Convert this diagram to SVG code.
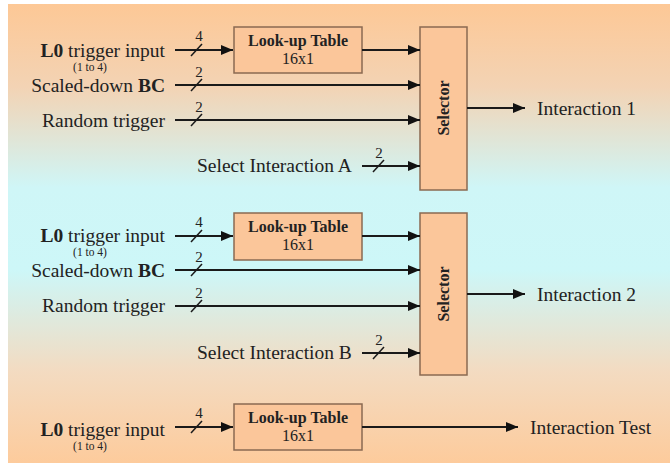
<svg xmlns="http://www.w3.org/2000/svg" width="670" height="465" viewBox="0 0 670 465">
<defs>
<linearGradient id="bg" x1="0" y1="0" x2="0" y2="1">
<stop offset="0" stop-color="#fdc896"/>
<stop offset="0.18" stop-color="#f3d3b4"/>
<stop offset="0.40" stop-color="#cff6f7"/>
<stop offset="0.58" stop-color="#cdf7f8"/>
<stop offset="0.80" stop-color="#f3dbc1"/>
<stop offset="1" stop-color="#fdcb9c"/>
</linearGradient>
<marker id="ah" viewBox="0 0 12 10" refX="12" refY="5" markerWidth="12" markerHeight="10" markerUnits="userSpaceOnUse" orient="auto">
<path d="M0,0 L12,5 L0,10 z" fill="#111"/>
</marker>
<style>
.box{fill:#fbc69a;stroke:#8a6a52;stroke-width:1.5}
.arr{stroke:#1a1a1a;stroke-width:2;fill:none;marker-end:url(#ah)}
.sl{stroke:#1a1a1a;stroke-width:1.5}
.t{font-family:"Liberation Serif",serif;font-size:19.5px;fill:#222}
.s{font-family:"Liberation Serif",serif;font-size:11.5px;fill:#222}
.n{font-family:"Liberation Serif",serif;font-size:15px;fill:#222}
.lt{font-family:"Liberation Serif",serif;font-size:16px;font-weight:bold;fill:#222}
.lv{font-family:"Liberation Serif",serif;font-size:16px;fill:#222}
.sel{font-family:"Liberation Serif",serif;font-size:16px;font-weight:bold;fill:#222}
</style>
</defs>
<rect x="8" y="4" width="662" height="459" fill="url(#bg)"/>

<g id="labels1">
<text class="t" x="165" y="57" text-anchor="end"><tspan font-weight="bold">L0</tspan> trigger input</text>
<text class="s" x="90" y="71" text-anchor="middle">(1 to 4)</text>
<text class="t" x="165" y="92" text-anchor="end">Scaled-down <tspan font-weight="bold">BC</tspan></text>
<text class="t" x="165" y="127" text-anchor="end">Random trigger</text>
<text class="t" x="197" y="172">Select Interaction A</text>
</g>
<g id="lut1">
<rect class="box" x="234" y="27" width="128" height="46"/>
<text class="lt" x="298" y="46" text-anchor="middle">Look-up Table</text>
<text class="lv" x="298" y="64" text-anchor="middle">16x1</text>
</g>
<g id="selector1">
<rect class="box" x="420" y="27" width="47" height="163"/>
<text class="sel" transform="translate(449,108) rotate(-90)" text-anchor="middle">Selector</text>
</g>
<g id="out1"><text class="t" x="537" y="115">Interaction 1</text></g>

<g id="labels2">
<text class="t" x="165" y="242" text-anchor="end"><tspan font-weight="bold">L0</tspan> trigger input</text>
<text class="s" x="90" y="256" text-anchor="middle">(1 to 4)</text>
<text class="t" x="165" y="277" text-anchor="end">Scaled-down <tspan font-weight="bold">BC</tspan></text>
<text class="t" x="165" y="312" text-anchor="end">Random trigger</text>
<text class="t" x="197" y="359">Select Interaction B</text>
</g>
<g id="lut2">
<rect class="box" x="234" y="213" width="128" height="47"/>
<text class="lt" x="298" y="232" text-anchor="middle">Look-up Table</text>
<text class="lv" x="298" y="250" text-anchor="middle">16x1</text>
</g>
<g id="selector2">
<rect class="box" x="420" y="213" width="47" height="162"/>
<text class="sel" transform="translate(449,294) rotate(-90)" text-anchor="middle">Selector</text>
</g>
<g id="out2"><text class="t" x="537" y="301">Interaction 2</text></g>

<g id="labels3">
<text class="t" x="165" y="436" text-anchor="end"><tspan font-weight="bold">L0</tspan> trigger input</text>
<text class="s" x="90" y="450" text-anchor="middle">(1 to 4)</text>
</g>
<g id="lut3">
<rect class="box" x="234" y="404" width="128" height="46"/>
<text class="lt" x="298" y="423" text-anchor="middle">Look-up Table</text>
<text class="lv" x="298" y="441" text-anchor="middle">16x1</text>
</g>
<g id="out3"><text class="t" x="530" y="434">Interaction Test</text></g>

<g id="connectors">
<line class="arr" x1="175" y1="50" x2="233" y2="50"/>
<line class="arr" x1="362" y1="50" x2="420" y2="50"/>
<line class="arr" x1="175" y1="85" x2="420" y2="85"/>
<line class="arr" x1="175" y1="120" x2="420" y2="120"/>
<line class="arr" x1="362" y1="166" x2="420" y2="166"/>
<line class="arr" x1="467" y1="108" x2="525" y2="108"/>

<line class="arr" x1="175" y1="236" x2="233" y2="236"/>
<line class="arr" x1="362" y1="236" x2="420" y2="236"/>
<line class="arr" x1="175" y1="270" x2="420" y2="270"/>
<line class="arr" x1="175" y1="306" x2="420" y2="306"/>
<line class="arr" x1="362" y1="353" x2="420" y2="353"/>
<line class="arr" x1="467" y1="294" x2="525" y2="294"/>

<line class="arr" x1="175" y1="427" x2="233" y2="427"/>
<line class="arr" x1="362" y1="427" x2="518" y2="427"/>

<g id="buswidths">
<line class="sl" x1="191" y1="56" x2="202" y2="44"/><text class="n" x="199" y="41" text-anchor="middle">4</text>
<line class="sl" x1="191" y1="91" x2="202" y2="79"/><text class="n" x="199" y="77" text-anchor="middle">2</text>
<line class="sl" x1="191" y1="126" x2="202" y2="114"/><text class="n" x="199" y="112" text-anchor="middle">2</text>
<line class="sl" x1="373" y1="172" x2="384" y2="160"/><text class="n" x="379" y="158" text-anchor="middle">2</text>
<line class="sl" x1="191" y1="242" x2="202" y2="230"/><text class="n" x="199" y="227" text-anchor="middle">4</text>
<line class="sl" x1="191" y1="276" x2="202" y2="264"/><text class="n" x="199" y="262" text-anchor="middle">2</text>
<line class="sl" x1="191" y1="312" x2="202" y2="300"/><text class="n" x="199" y="298" text-anchor="middle">2</text>
<line class="sl" x1="373" y1="359" x2="384" y2="347"/><text class="n" x="379" y="345" text-anchor="middle">2</text>
<line class="sl" x1="191" y1="433" x2="202" y2="421"/><text class="n" x="199" y="418" text-anchor="middle">4</text>
</g>
</g>
</svg>
